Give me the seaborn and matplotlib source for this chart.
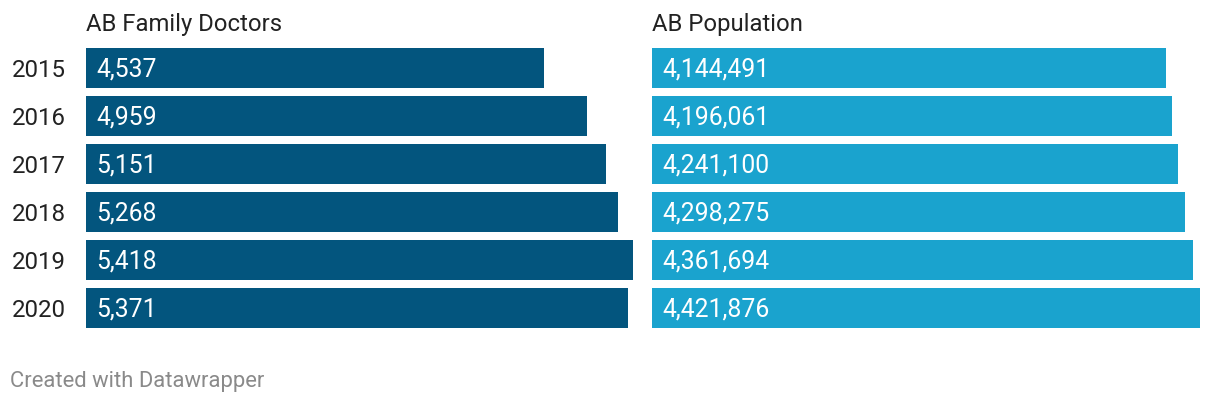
import matplotlib
matplotlib.use("Agg")
from matplotlib import pyplot as plt
import seaborn as sns
import pandas as pd

years = ["2015", "2016", "2017", "2018", "2019", "2020"]
doctors = [4537, 4959, 5151, 5268, 5418, 5371]
population = [4144491, 4196061, 4241100, 4298275, 4361694, 4421876]
titles = ["AB Family Doctors", "AB Population"]

sns.set_style("white")
plt.rcParams['font.family'] = ['Roboto', 'DejaVu Sans']

df = pd.DataFrame({"year": years, "doctors": doctors, "population": population})

W, H = 1220, 404
fig = plt.figure(figsize=(W / 100, H / 100), dpi=100)

# axes boxes in pixels: left, top, width, height
boxes = [(86, 44, 547, 288), (652, 44, 548, 288)]
cols = ["doctors", "population"]
colors = ["#03557e", "#1aa3ce"]

for i, (col, color, title, box) in enumerate(zip(cols, colors, titles, boxes)):
    l, t, w, h = box
    ax = fig.add_axes([l / W, (H - t - h) / H, w / W, h / H])
    sns.barplot(data=df, x=col, y="year", orient="h", color=color,
                width=40 / 48, saturation=1, linewidth=0, ax=ax)
    ax.set_xlim(0, df[col].max())
    ax.set_ylim(5.5, -0.5)
    ax.set_xlabel("")
    ax.set_ylabel("")
    ax.set_xticks([])
    for s in ax.spines.values():
        s.set_visible(False)
    if i == 0:
        ax.tick_params(axis="y", length=0, pad=14.4, labelsize=17.3, labelcolor="#222222")
    else:
        ax.set_yticks([])
    for j, v in enumerate(df[col]):
        ax.annotate(f"{v:,}", xy=(0, j), xytext=(7.4, -0.8), textcoords="offset points",
                    ha="left", va="center", color="white", fontsize=17.8)
    ax.text(0, 1 + 20 / h, title, transform=ax.transAxes, ha="left", va="center",
            fontsize=17.2, color="#222222")

fig.text(10 / W, 1 - 381 / H, "Created with Datawrapper", ha="left", va="center",
         fontsize=15.8, color="#8a8a8a")

fig.savefig("out.png", dpi=100, facecolor="white")
